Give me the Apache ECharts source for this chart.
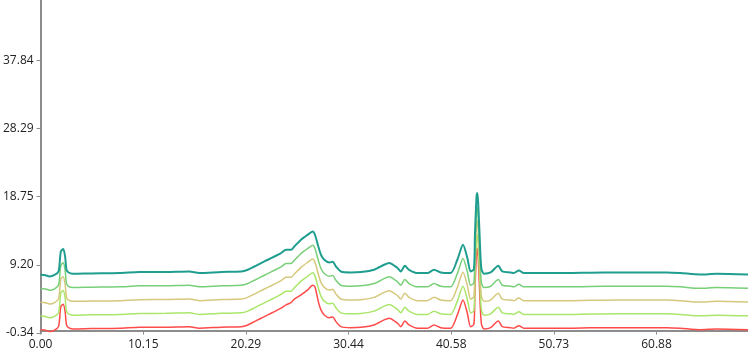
<!DOCTYPE html>
<html>
<head>
<meta charset="utf-8">
<script src="https://cdn.jsdelivr.net/npm/echarts@6/dist/echarts.min.js"></script>
<style>
	html, body {margin: 0; padding: 0; background: #fff;}
	#chart {width: 748px; height: 352px;}
</style>
</head>
<body>
<div id="chart"></div>
<script>
	// retention time (x) shared by all traces
	var xTime = [0, 0.49, 0.89, 1.38, 1.78, 2.00, 2.24, 2.42, 2.56, 2.76, 3.16, 5.03, 7.79, 9.76, 12.43, 14.69, 15.68, 17.85, 19.82, 20.48,
		21.13, 21.79, 22.46, 23.11, 23.77, 24.26, 24.75, 25.08, 25.74, 26.40, 26.89, 27.12, 27.45, 27.71, 28.04, 28.53, 28.87, 29.19, 29.68, 30.67,
		31.66, 32.97, 33.95, 34.45, 35.28, 35.60, 36.00, 36.42, 37.25, 38.24, 38.89, 39.55, 40.53, 41.19, 41.75, 42.18, 42.50, 42.83, 42.93, 43.10,
		43.17, 43.26, 43.39, 43.56, 43.82, 44.48, 45.24, 45.63, 46.45, 46.77, 47.27, 47.76, 48.72, 52.04, 54.34, 56.97, 59.27, 61.90, 63.22, 65.19,
		66.83, 69.92];

	var redData = [0.10, 0.03, -0.14, 0.06, 0.58, 3.35, 3.69, 2.68, 0.79, 0.41, 0.23, 0.28, 0.33, 0.47, 0.48, 0.55, 0.33, 0.48, 0.55, 0.79,
		1.25, 1.73, 2.19, 2.65, 3.13, 3.59, 3.90, 4.40, 4.99, 5.69, 6.35, 6.10, 4.05, 2.89, 2.19, 1.81, 1.91, 1.25, 0.55, 0.41,
		0.47, 0.79, 1.49, 1.73, 1.03, 0.55, 1.35, 0.79, 0.33, 0.33, 0.79, 0.41, 0.33, 2.19, 4.29, 2.43, 0.55, 0.88, 5.69, 11.28,
		11.52, 9.88, 5.69, 1.03, 0.23, 0.41, 1.35, 0.55, 0.41, 0.33, 0.69, 0.33, 0.33, 0.33, 0.38, 0.41, 0.41, 0.41, 0.33, 0.13,
		0.23, 0.13];
	var limeData = [2.03, 1.96, 1.79, 1.99, 2.51, 5.28, 5.62, 4.61, 2.72, 2.34, 2.16, 2.21, 2.26, 2.40, 2.41, 2.48, 2.26, 2.41, 2.48, 2.72,
		3.18, 3.66, 4.12, 4.58, 5.06, 5.52, 5.52, 5.98, 6.92, 7.62, 8.08, 7.62, 5.98, 4.82, 4.12, 3.74, 3.84, 3.18, 2.48, 2.34,
		2.40, 2.72, 3.42, 3.66, 2.96, 2.48, 3.28, 2.72, 2.26, 2.26, 2.72, 2.34, 2.26, 4.12, 6.22, 4.36, 2.48, 2.81, 7.62, 13.21,
		13.45, 11.81, 7.62, 2.96, 2.16, 2.34, 3.28, 2.48, 2.34, 2.26, 2.62, 2.26, 2.26, 2.26, 2.31, 2.34, 2.34, 2.34, 2.26, 2.06,
		2.16, 2.06];
	var tanData = [3.96, 3.89, 3.72, 3.92, 4.44, 7.21, 7.55, 6.54, 4.65, 4.27, 4.09, 4.14, 4.19, 4.33, 4.34, 4.41, 4.19, 4.34, 4.41, 4.65,
		5.11, 5.59, 6.05, 6.51, 6.99, 7.45, 7.45, 7.91, 8.85, 9.55, 10.01, 9.55, 7.91, 6.75, 6.05, 5.67, 5.77, 5.11, 4.41, 4.27,
		4.33, 4.65, 5.35, 5.59, 4.89, 4.41, 5.21, 4.65, 4.19, 4.19, 4.65, 4.27, 4.19, 6.05, 8.15, 6.29, 4.41, 4.74, 9.55, 15.14,
		15.38, 13.74, 9.55, 4.89, 4.09, 4.27, 5.21, 4.41, 4.27, 4.19, 4.55, 4.19, 4.19, 4.19, 4.24, 4.27, 4.27, 4.27, 4.19, 3.99,
		4.09, 3.99];
	var greenData = [5.89, 5.82, 5.65, 5.85, 6.37, 9.14, 9.48, 8.47, 6.58, 6.20, 6.02, 6.07, 6.12, 6.26, 6.27, 6.34, 6.12, 6.27, 6.34, 6.58,
		7.04, 7.52, 7.98, 8.44, 8.92, 9.38, 9.38, 9.84, 10.78, 11.48, 11.94, 11.48, 9.84, 8.68, 7.98, 7.60, 7.70, 7.04, 6.34, 6.20,
		6.26, 6.58, 7.28, 7.52, 6.82, 6.34, 7.14, 6.58, 6.12, 6.12, 6.58, 6.20, 6.12, 7.98, 10.08, 8.22, 6.34, 6.67, 11.48, 17.07,
		17.31, 15.67, 11.48, 6.82, 6.02, 6.20, 7.14, 6.34, 6.20, 6.12, 6.48, 6.12, 6.12, 6.12, 6.17, 6.20, 6.20, 6.20, 6.12, 5.92,
		6.02, 5.92];
	var tealData = [7.82, 7.75, 7.58, 7.78, 8.30, 11.07, 11.41, 10.40, 8.51, 8.13, 7.95, 8.00, 8.05, 8.19, 8.20, 8.27, 8.05, 8.20, 8.27, 8.51,
		8.97, 9.45, 9.91, 10.37, 10.85, 11.31, 11.31, 11.77, 12.71, 13.41, 13.87, 13.41, 11.77, 10.61, 9.91, 9.53, 9.63, 8.97, 8.27, 8.13,
		8.19, 8.51, 9.21, 9.45, 8.75, 8.27, 9.07, 8.51, 8.05, 8.05, 8.51, 8.13, 8.05, 9.91, 12.01, 10.15, 8.27, 8.60, 13.41, 19.00,
		19.24, 17.60, 13.41, 8.75, 7.95, 8.13, 9.07, 8.27, 8.13, 8.05, 8.41, 8.05, 8.05, 8.05, 8.10, 8.13, 8.13, 8.13, 8.05, 7.85,
		7.95, 7.85];

	var traceList = [
		{name: 'red', data: redData, color: '#ff4a4a', width: 1.5},
		{name: 'lime', data: limeData, color: '#a9e66a', width: 1.5},
		{name: 'tan', data: tanData, color: '#d6c87c', width: 1.5},
		{name: 'green', data: greenData, color: '#77cf77', width: 1.5},
		{name: 'teal', data: tealData, color: '#1f9e8f', width: 2}
	];

	var seriesArr = [];
	for (var i = 0; i < traceList.length; i++) {
		var tr = traceList[i];
		var pts = [];
		for (var j = 0; j < xTime.length; j++) {
			pts.push([xTime[j], tr.data[j]]);
		}
		seriesArr.push({
			name: tr.name,
			type: 'line',
			smooth: 0.25,
			showSymbol: false,
			animation: false,
			lineStyle: {color: tr.color, width: tr.width},
			itemStyle: {color: tr.color},
			data: pts
		});
	}

	var axisLine = {show: true, lineStyle: {color: '#8c8c8c', width: 2}};
	var axisTick = {show: true, length: 4, lineStyle: {color: '#8c8c8c'}};

	var option = {
		animation: false,
		grid: {left: 39, right: 0, top: 0, bottom: 19},
		xAxis: {
			type: 'value',
			min: 0,
			max: 69.92,
			interval: 10.146,
			axisLine: axisLine,
			axisTick: axisTick,
			splitLine: {show: false},
			axisLabel: {
				showMaxLabel: false,
				color: '#222',
				fontSize: 12,
				fontFamily: 'Open Sans',
				margin: 6,
				formatter: function (v) { return v.toFixed(2); }
			}
		},
		yAxis: {
			type: 'value',
			min: -0.34,
			max: 46.27,
			interval: 9.5447,
			axisLine: axisLine,
			axisTick: axisTick,
			splitLine: {show: false},
			axisLabel: {
				showMaxLabel: false,
				color: '#222',
				fontSize: 12,
				fontFamily: 'Open Sans',
				margin: 7,
				formatter: function (v) { return v.toFixed(2); }
			}
		},
		series: seriesArr
	};

	var myChart = echarts.init(document.getElementById('chart'));
	myChart.setOption(option);
</script>
</body>
</html>
